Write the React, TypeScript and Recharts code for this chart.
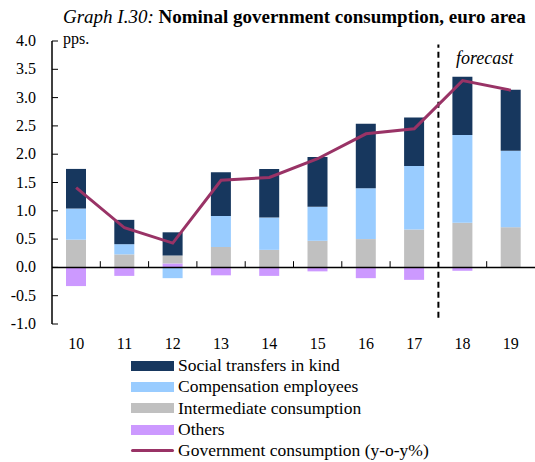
import React from 'react';
import { ComposedChart, Bar, Line, XAxis, YAxis, ReferenceLine } from 'recharts';

const years = ['10', '11', '12', '13', '14', '15', '16', '17', '18', '19'];
const social = [0.70, 0.43, 0.41, 0.77, 0.86, 0.88, 1.14, 0.86, 1.03, 1.08];
const compensation = [0.55, 0.18, -0.19, 0.55, 0.57, 0.60, 0.90, 1.12, 1.55, 1.35];
const intermediate = [0.49, 0.23, 0.14, 0.36, 0.31, 0.47, 0.50, 0.67, 0.79, 0.71];
const others = [-0.33, -0.15, 0.07, -0.14, -0.15, -0.07, -0.19, -0.22, -0.06, 0];
const govConsumption = [1.41, 0.70, 0.43, 1.54, 1.59, 1.92, 2.36, 2.45, 3.30, 3.13];
const yTicks = [-1, -0.5, 0, 0.5, 1, 1.5, 2, 2.5, 3, 3.5, 4];

const FONT = '"Liberation Serif", "Times New Roman", serif';

const series = [
  { key: 'social', name: 'Social transfers in kind', color: '#17375E' },
  { key: 'comp', name: 'Compensation employees', color: '#99CCFF' },
  { key: 'inter', name: 'Intermediate consumption', color: '#C0C0C0' },
  { key: 'others', name: 'Others', color: '#CC99FF' },
];
const lineSeries = { key: 'gov', name: 'Government consumption (y-o-y%)', color: '#993366' };

const data = years.map((y, i) => ({
  year: y,
  social: social[i],
  comp: compensation[i],
  inter: intermediate[i],
  others: others[i],
  gov: govConsumption[i],
}));

// y tick: label on the left, tick mark pointing into the plot
const YTick = (props: any) => {
  const { x, y, payload } = props;
  return (
    <g>
      <line x1={x + 16} x2={x + 22} y1={y} y2={y} stroke="#000" strokeWidth={1} />
      <text x={x} y={y} dy={5} textAnchor="end" fontFamily={FONT} fontSize={16} fill="#000">
        {Number(payload.value).toFixed(1)}
      </text>
    </g>
  );
};

export default function App() {
  return (
    <div style={{ position: 'absolute', left: 0, top: 0, width: 535, height: 462, fontFamily: FONT, background: '#fff' }}>
      <div style={{ position: 'absolute', left: 63, top: 6, fontSize: 19, whiteSpace: 'nowrap' }}>
        <i>Graph I.30:</i> <b>Nominal government consumption, euro area</b>
      </div>
      <div style={{ position: 'absolute', left: 63, top: 30, fontSize: 16 }}>pps.</div>
      <div style={{ position: 'absolute', left: 456, top: 48, fontSize: 18, fontStyle: 'italic' }}>forecast</div>

      <ComposedChart
        width={535}
        height={462}
        data={data}
        stackOffset="sign"
        barCategoryGap={0}
        margin={{ top: 41, right: 0, left: 0, bottom: 108 }}
      >
        <XAxis
          dataKey="year"
          axisLine={false}
          tickLine={false}
          tickSize={0}
          tickMargin={14}
          height={30}
          tick={{ fontFamily: FONT, fontSize: 16, fill: '#000' }}
        />
        <YAxis
          type="number"
          domain={[-1, 4]}
          ticks={yTicks}
          interval={0}
          width={52}
          tickSize={0}
          tickMargin={16}
          tickLine={false}
          axisLine={{ stroke: '#000', strokeWidth: 1.5 }}
          tick={<YTick />}
        />
        <Bar dataKey="others" stackId="a" fill="#CC99FF" barSize={20} isAnimationActive={false} />
        <Bar dataKey="inter" stackId="a" fill="#C0C0C0" barSize={20} isAnimationActive={false} />
        <Bar dataKey="comp" stackId="a" fill="#99CCFF" barSize={20} isAnimationActive={false} />
        <Bar dataKey="social" stackId="a" fill="#17375E" barSize={20} isAnimationActive={false} />
        <ReferenceLine y={0} stroke="#000" strokeWidth={1.5} />
        {years.slice(0, 9).filter((y) => y !== '17').map((y) => (
          <ReferenceLine
            key={y}
            position="end"
            segment={[{ x: y, y: 0 }, { x: y, y: 0.11 }]}
            stroke="#000"
            strokeWidth={1}
          />
        ))}
        <ReferenceLine
          position="end"
          segment={[{ x: '17', y: -0.89 }, { x: '17', y: 3.94 }]}
          stroke="#000"
          strokeWidth={2}
          strokeDasharray="6 4"
        />
        <Line
          dataKey="gov"
          type="linear"
          stroke="#993366"
          strokeWidth={3}
          dot={false}
          isAnimationActive={false}
        />
      </ComposedChart>

      <div style={{ position: 'absolute', left: 131, top: 355, fontSize: 17.5 }}>
        {series.map((s) => (
          <div key={s.key} style={{ display: 'flex', alignItems: 'center', height: 21.3 }}>
            <span style={{ display: 'inline-block', width: 43, height: 10, background: s.color, marginRight: 4 }} />
            <span>{s.name}</span>
          </div>
        ))}
        <div style={{ display: 'flex', alignItems: 'center', height: 21.3 }}>
          <span style={{ display: 'inline-block', width: 43, height: 3, borderRadius: 2, background: lineSeries.color, marginRight: 4 }} />
          <span>{lineSeries.name}</span>
        </div>
      </div>
    </div>
  );
}
